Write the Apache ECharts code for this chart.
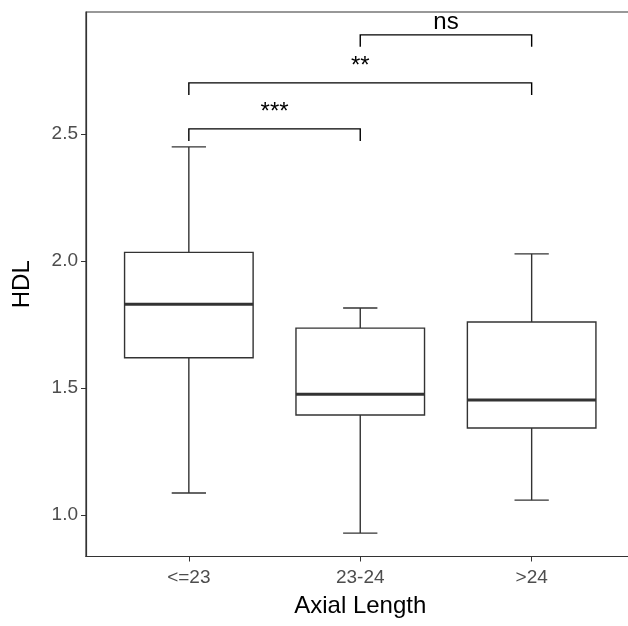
<!DOCTYPE html>
<html>
<head>
<meta charset="utf-8">
<script src="https://cdn.jsdelivr.net/npm/echarts@6/dist/echarts.min.js"></script>
<style>html,body{margin:0;padding:0;background:#fff}#c{width:628px;height:626px}</style>
</head>
<body>
<div id="c"></div>
<script>
var categories = ['<=23', '23-24', '>24'];
var whiskerLow = [1.087, 0.929, 1.059];
var q1 = [1.619, 1.394, 1.343];
var median = [1.830, 1.476, 1.453];
var q3 = [2.034, 1.736, 1.760];
var whiskerHigh = [2.449, 1.815, 2.028];
var yTicks = [1.0, 1.5, 2.0, 2.5];
var bracketFrom = [1, 1, 2];
var bracketTo = [2, 3, 3];
var bracketY = [2.520, 2.701, 2.890];
var bracketLabels = ['***', '**', 'ns'];

var FONT = '"Liberation Sans", Arial, sans-serif';
var boxData = categories.map(function (c, i) {
  return [i + 1, whiskerLow[i], q1[i], median[i], q3[i], whiskerHigh[i]];
});
var brData = bracketLabels.map(function (l, i) {
  return [bracketFrom[i], bracketTo[i], bracketY[i], i];
});

var chart = echarts.init(document.getElementById('c'), null, {renderer: 'canvas'});
chart.setOption({
  animation: false,
  backgroundColor: '#fff',
  grid: {left: 86, top: 12, width: 548.5, height: 544.5, outerBoundsMode: 'none', containLabel: false,
    show: true, borderColor: '#333', borderWidth: 1.2, backgroundColor: 'transparent'},
  xAxis: {
    type: 'value', min: 0.4, max: 3.6,
    name: 'Axial Length', nameLocation: 'middle', nameGap: 38,
    nameTextStyle: {fontFamily: FONT, fontSize: 24, color: '#000'},
    splitLine: {show: false},
    axisLine: {show: true, lineStyle: {color: '#333', width: 1.2}},
    axisTick: {show: true, length: 5, customValues: [1, 2, 3], lineStyle: {color: '#333'}},
    axisLabel: {customValues: [1, 2, 3], margin: 12, fontFamily: FONT, fontSize: 19, color: '#4d4d4d',
      formatter: function (v) { return categories[Math.round(v) - 1]; }}
  },
  yAxis: {
    type: 'value', min: 0.837, max: 2.980,
    name: 'HDL', nameLocation: 'middle', nameGap: 52, nameRotate: 90,
    nameTextStyle: {fontFamily: FONT, fontSize: 24, color: '#000'},
    splitLine: {show: false},
    axisLine: {show: true, lineStyle: {color: '#333', width: 1.2}},
    axisTick: {show: true, length: 5, customValues: yTicks, lineStyle: {color: '#333'}},
    axisLabel: {customValues: yTicks, margin: 8, fontFamily: FONT, fontSize: 19, color: '#4d4d4d',
      formatter: function (v) { return v.toFixed(1); }}
  },
  series: [
    {
      type: 'custom',
      data: boxData,
      encode: {x: 0, y: [1, 2, 3, 4, 5]},
      renderItem: function (params, api) {
        var x = api.value(0);
        var half = 0.375, cap = 0.1;
        var pLow = api.coord([x, api.value(1)]);
        var pQ1 = api.coord([x, api.value(2)]);
        var pMed = api.coord([x, api.value(3)]);
        var pQ3 = api.coord([x, api.value(4)]);
        var pHigh = api.coord([x, api.value(5)]);
        var xl = api.coord([x - half, 0])[0], xr = api.coord([x + half, 0])[0];
        var cl = api.coord([x - cap, 0])[0], cr = api.coord([x + cap, 0])[0];
        var st = {stroke: '#333', lineWidth: 1.4, fill: null};
        return {type: 'group', children: [
          {type: 'line', shape: {x1: pHigh[0], y1: pHigh[1], x2: pQ3[0], y2: pQ3[1]}, style: st},
          {type: 'line', shape: {x1: pLow[0], y1: pLow[1], x2: pQ1[0], y2: pQ1[1]}, style: st},
          {type: 'line', shape: {x1: cl, y1: pHigh[1], x2: cr, y2: pHigh[1]}, style: st},
          {type: 'line', shape: {x1: cl, y1: pLow[1], x2: cr, y2: pLow[1]}, style: st},
          {type: 'rect', shape: {x: xl, y: pQ3[1], width: xr - xl, height: pQ1[1] - pQ3[1]}, style: {stroke: '#333', lineWidth: 1.4, fill: '#fff'}},
          {type: 'line', shape: {x1: xl, y1: pMed[1], x2: xr, y2: pMed[1]}, style: {stroke: '#333', lineWidth: 3}}
        ]};
      }
    },
    {
      type: 'custom',
      data: brData,
      encode: {x: [0, 1], y: 2},
      renderItem: function (params, api) {
        var a = api.coord([api.value(0), api.value(2)]);
        var b = api.coord([api.value(1), api.value(2)]);
        var lab = bracketLabels[api.value(3)];
        var off = lab === 'ns' ? 12.5 : 16.5;
        return {type: 'group', children: [
          {type: 'polyline', shape: {points: [[a[0], a[1] + 12], [a[0], a[1]], [b[0], b[1]], [b[0], b[1] + 12]]},
            style: {stroke: '#000', lineWidth: 1.4, fill: null}},
          {type: 'text', x: (a[0] + b[0]) / 2, y: a[1] - off,
            style: {text: lab, fill: '#000', font: '24px ' + FONT, align: 'center', verticalAlign: 'middle'}}
        ]};
      }
    }
  ]
});
</script>
</body>
</html>
